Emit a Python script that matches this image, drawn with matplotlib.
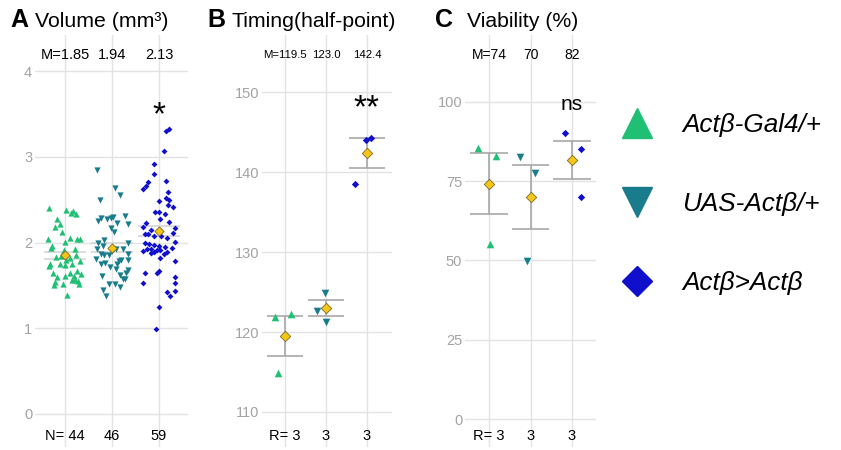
import numpy as np
import matplotlib
matplotlib.use('Agg')
import matplotlib.pyplot as plt
from matplotlib.lines import Line2D

plt.rcParams['font.family'] = ['Liberation Sans', 'DejaVu Sans']

W, H = 841, 450

groups = ['Actβ-Gal4/+', 'UAS-Actβ/+', 'Actβ>Actβ']
colors = ['#1fc073', '#187c8c', '#1010cc']
markers = ['^', 'v', 'D']

# A: volume (mm3), one value per animal, plus horizontal jitter
vol_gal4 = [2.40, 2.38, 2.37, 2.34, 2.33, 2.27, 2.21, 2.18, 2.12, 2.04, 2.01, 2.05, 2.04, 2.04,
            1.96, 1.94, 1.91, 1.92, 1.83, 1.86, 1.82, 1.80, 1.78, 1.75, 1.75, 1.75, 1.73, 1.74,
            1.65, 1.67, 1.64, 1.63, 1.61, 1.61, 1.60, 1.54, 1.56, 1.56, 1.55, 1.52, 1.52, 1.50,
            1.39, 1.84]
vol_gal4_dx = [-0.33, 0.02, 0.16, 0.13, 0.23, -0.16, -0.11, -0.22, -0.06, -0.36, 0.00, 0.11, 0.25, 0.32,
               -0.28, -0.30, -0.03, 0.21, -0.19, 0.23, 0.11, 0.03, 0.32, -0.32, -0.11, 0.14, -0.33, -0.01,
               -0.25, 0.25, 0.11, 0.35, 0.00, 0.19, -0.18, -0.22, 0.15, 0.22, 0.28, -0.05, 0.30, -0.23,
               0.04, -0.09]
vol_uas = [2.84, 2.63, 2.55, 2.50, 2.25, 2.28, 2.28, 2.30, 2.31, 2.23, 2.21, 2.17, 2.12, 1.99,
           2.03, 2.00, 1.96, 1.93, 1.93, 1.92, 1.87, 1.85, 1.85, 1.81, 1.87, 1.80, 1.78, 1.75,
           1.75, 1.76, 1.80, 1.69, 1.68, 1.65, 1.61, 1.62, 1.57, 1.52, 1.52, 1.45, 1.48, 1.38,
           2.27, 1.90, 1.72, 1.58]
vol_uas_dx = [-0.31, 0.06, 0.16, -0.25, -0.30, -0.23, -0.03, 0.02, 0.28, 0.11, 0.33, -0.03, 0.04, -0.30,
              -0.16, 0.34, -0.19, -0.31, 0.09, 0.23, -0.23, -0.17, -0.07, -0.33, 0.33, 0.20, 0.14, 0.11,
              -0.23, -0.14, 0.33, 0.09, 0.34, 0.30, -0.21, 0.16, 0.23, -0.07, 0.06, -0.19, 0.16, -0.12,
              -0.10, 0.00, -0.05, 0.28]
vol_act = [3.30, 3.32, 3.07, 2.92, 2.80, 2.72, 2.71, 2.66, 2.62, 2.59, 2.48, 2.52, 2.50, 2.44,
           2.41, 2.36, 2.35, 2.33, 2.27, 2.24, 2.23, 2.18, 2.17, 2.15, 2.10, 2.10, 2.11, 2.05,
           2.07, 2.07, 2.00, 1.98, 2.01, 1.97, 1.96, 1.95, 1.93, 1.92, 1.91, 1.91, 1.94, 1.90,
           1.89, 1.89, 1.88, 1.87, 1.82, 1.78, 1.64, 1.64, 1.67, 1.53, 1.60, 1.53, 1.42, 1.38,
           1.43, 1.25, 0.99]
vol_act_dx = [0.14, 0.22, 0.11, -0.11, -0.10, 0.15, -0.24, -0.28, -0.33, 0.20, 0.00, 0.14, 0.21, 0.20,
              0.30, -0.09, -0.01, 0.13, 0.02, 0.21, -0.28, -0.33, 0.34, -0.16, -0.30, -0.24, 0.30, 0.16,
              -0.10, 0.04, -0.30, -0.21, 0.35, -0.11, -0.01, 0.13, -0.26, -0.18, -0.05, 0.02, 0.27, -0.33,
              -0.10, 0.16, -0.16, 0.11, 0.02, 0.34, -0.30, -0.05, -0.01, -0.33, 0.34, 0.35, 0.18, 0.23,
              0.34, -0.01, -0.06]
vol_means = [1.85, 1.94, 2.13]
vol_sem = [0.04, 0.05, 0.06]

# B: timing (half-point), three replicates each
tim_gal4 = [121.9, 122.2, 114.9]
tim_uas = [124.9, 122.6, 121.2]
tim_act = [144.1, 144.3, 138.5]
tim_dx = [[-0.24, 0.14, -0.17], [-0.02, -0.23, 0.00], [-0.03, 0.11, -0.29]]
tim_means = [119.5, 123.0, 142.4]
tim_sem = [2.45, 1.05, 1.9]

# C: viability (%)
via_gal4 = [85.4, 83.0, 55.1]
via_uas = [82.5, 77.5, 49.9]
via_act = [90.1, 85.1, 69.9]
via_dx = [[-0.26, 0.16, 0.02], [-0.25, 0.10, -0.09], [-0.17, 0.21, 0.23]]
via_means = [74.2, 70.0, 81.7]
via_sem = [9.6, 10.2, 6.0]

fig = plt.figure(figsize=(W / 100, H / 100), dpi=100)


def px_axes(left, right, top=35, bottom=447):
    return fig.add_axes([left / W, 1 - bottom / H, (right - left) / W, (bottom - top) / H])


def draw_panel(ax, series, jitter, means, sems, fmt, top_lab, bot_lab, lab_size,
               ylim, yticks, xlim, sizes, bar_col):
    ax.set_xlim(*xlim)
    ax.set_ylim(*ylim)
    ax.set_xticks([1, 2, 3])
    ax.set_xticklabels([])
    ax.set_yticks(yticks)
    ax.tick_params(length=0, pad=2, labelsize=10.5, labelcolor='#a3a3a3')
    ax.grid(True, color='#e3e3e3', linewidth=1)
    ax.set_axisbelow(True)
    for s in ax.spines.values():
        s.set_visible(False)
    for i, (vals, dx) in enumerate(zip(series, jitter)):
        g = i + 1
        s = sizes[0] if markers[i] != 'D' else sizes[1]
        ax.scatter(g + np.array(dx), vals, marker=markers[i], s=s, color=colors[i],
                   linewidths=0, zorder=3)
        m, e = means[i], sems[i]
        ax.hlines([m - e, m + e], g - 0.45, g + 0.45, color=bar_col, linewidth=1.2, zorder=2)
        ax.vlines(g, m - e, m + e, color=bar_col, linewidth=1.2, zorder=2)
        ax.scatter([g], [m], marker='D', s=sizes[2], color='#f5c518', edgecolor='#7d6a20',
                   linewidth=0.6, zorder=4)
        tr = ax.get_xaxis_transform()
        ax.text(g, 0.951, (top_lab if i == 0 else '') + format(m, fmt), transform=tr,
                ha='center', va='center', fontsize=lab_size)
        ax.text(g, 0.027, (bot_lab if i == 0 else '') + str(len(vals)), transform=tr,
                ha='center', va='center', fontsize=10.5)


axA = px_axes(35, 188)
draw_panel(axA, [vol_gal4, vol_uas, vol_act], [vol_gal4_dx, vol_uas_dx, vol_act_dx],
           vol_means, vol_sem, '.2f', 'M=', 'N= ', 10.5,
           (-0.385, 4.42), [0, 1, 2, 3, 4], (0.362, 3.617), (20, 9, 22), '#d6d6d6')
axA.text(3, 3.48, '*', ha='center', va='center', fontsize=24)

axB = px_axes(262, 392)
draw_panel(axB, [tim_gal4, tim_uas, tim_act], tim_dx, tim_means, tim_sem, '.1f',
           'M=', 'R= ', 8.2, (105.6, 157.2), [110, 120, 130, 140, 150], (0.44, 3.61),
           (30, 14, 28), '#a8a8a8')
axB.text(3, 147.9, '**', ha='center', va='center', fontsize=24)

axC = px_axes(465, 596)
draw_panel(axC, [via_gal4, via_uas, via_act], via_dx, via_means, via_sem, '.0f',
           'M=', 'R= ', 10, (-8.83, 121.1), [0, 25, 50, 75, 100], (0.42, 3.58),
           (30, 14, 28), '#a8a8a8')
axC.text(3, 99.3, 'ns', ha='center', va='center', fontsize=15)

# panel titles
for letter, lx, title, tx in [('A', 10, 'Volume (mm³)', 35),
                              ('B', 207, 'Timing(half-point)', 232),
                              ('C', 435, 'Viability (%)', 467)]:
    fig.text(lx / W, 1 - 27 / H, letter, fontsize=18, fontweight='bold', va='baseline')
    fig.text(tx / W, 1 - 27 / H, title, fontsize=15.3, va='baseline')

handles = [Line2D([], [], linestyle='', marker=markers[i], color=colors[i],
                  markersize=21 if markers[i] != 'D' else 15) for i in range(3)]
fig.legend(handles, groups, loc='center left', bbox_to_anchor=(600 / W, 1 - 204 / H),
           frameon=False, prop={'style': 'italic', 'size': 18.8}, labelspacing=2.1,
           handlelength=2, handletextpad=0.75, borderpad=0.4, borderaxespad=0)

fig.savefig('out.png', dpi=100)
